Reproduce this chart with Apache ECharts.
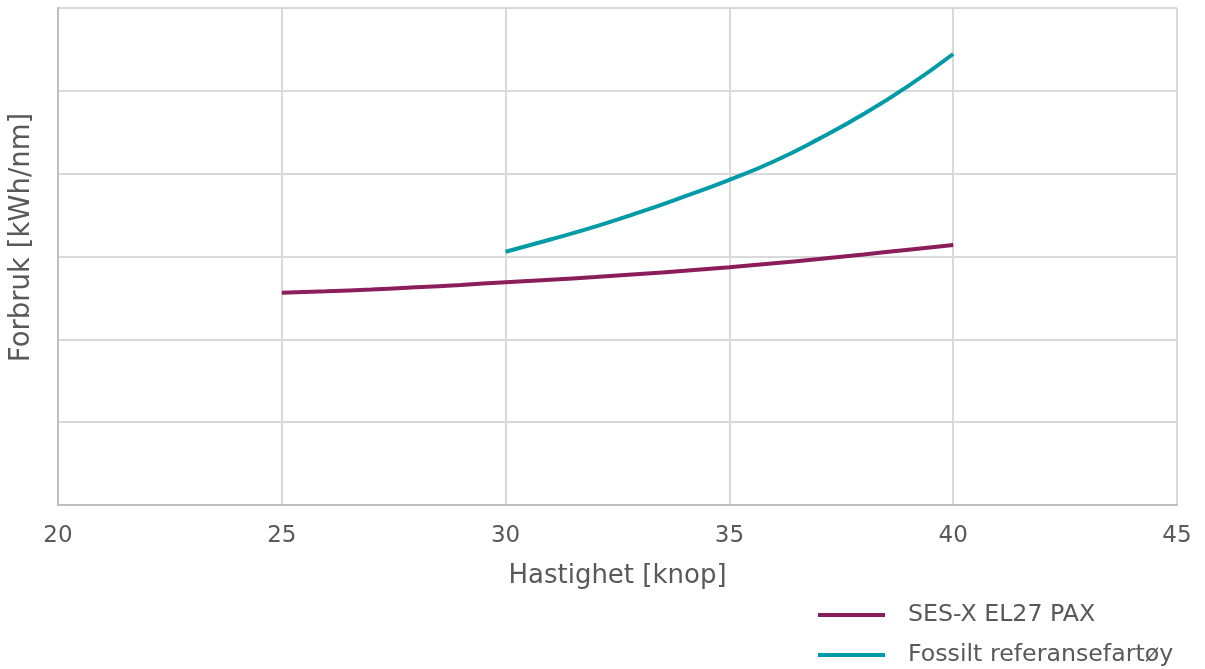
<!DOCTYPE html>
<html>
<head>
<meta charset="utf-8">
<script src="https://cdn.jsdelivr.net/npm/echarts@6/dist/echarts.min.js"></script>
<style>html,body{margin:0;padding:0;background:#fff}#c{width:1205px;height:669px}</style>
</head>
<body>
<div id="c"></div>
<script>
const speedsEl = [25, 26, 27, 28, 29, 30, 31, 32, 33, 34, 35, 36, 37, 38, 39, 40];
const valuesEl = [2.563, 2.58, 2.602, 2.628, 2.657, 2.689, 2.72, 2.752, 2.789, 2.828, 2.87, 2.918, 2.97, 3.025, 3.082, 3.139];
const speedsFossil = [30, 31, 32, 33, 34, 35, 36, 37, 38, 39, 40];
const valuesFossil = [3.058, 3.205, 3.36, 3.535, 3.725, 3.925, 4.15, 4.42, 4.72, 5.06, 5.445];
const seriesNames = ['SES-X EL27 PAX', 'Fossilt referansefartøy'];
const xTicks = [20, 25, 30, 35, 40, 45];

const font = 'DejaVu Sans, Verdana, sans-serif';
const txt = '#595959';
const chart = echarts.init(document.getElementById('c'), null, {renderer: 'canvas'});
chart.setOption({
  animation: false,
  backgroundColor: '#fff',
  grid: {left: 58, right: 28, top: 8, bottom: 164, containLabel: false},
  xAxis: {
    type: 'value', min: xTicks[0], max: xTicks[xTicks.length - 1], interval: 5,
    name: 'Hastighet [knop]', nameLocation: 'middle', nameGap: 58,
    nameTextStyle: {fontFamily: font, fontSize: 26, color: txt},
    axisLine: {show: true, lineStyle: {color: '#bfbfbf', width: 2}},
    axisTick: {show: false},
    axisLabel: {fontFamily: font, fontSize: 23, color: txt, margin: 20},
    splitLine: {show: true, lineStyle: {color: '#d9d9d9', width: 2}}
  },
  yAxis: {
    type: 'value', min: 0, max: 6, interval: 1,
    name: 'Forbruk [kWh/nm]', nameLocation: 'middle', nameGap: 22,
    nameTextStyle: {fontFamily: font, fontSize: 27.5, color: txt, padding: [0, 0, 0, 38]},
    axisLine: {show: true, lineStyle: {color: '#bfbfbf', width: 2}},
    axisTick: {show: false},
    axisLabel: {show: false},
    splitLine: {show: true, lineStyle: {color: '#d9d9d9', width: 2}}
  },
  legend: {
    orient: 'vertical', left: 818, top: 603, height: 66, padding: 0,
    icon: 'rect', itemWidth: 67, itemHeight: 4, itemGap: 16,
    textStyle: {fontFamily: font, fontSize: 23.7, lineHeight: 24, color: txt, padding: [0, 0, 0, 18]},
    data: seriesNames
  },
  series: [
    {
      name: seriesNames[0], type: 'line', smooth: true, showSymbol: false,
      data: speedsEl.map((s, i) => [s, valuesEl[i]]),
      lineStyle: {color: '#8C1D5B', width: 4}, itemStyle: {color: '#8C1D5B'}
    },
    {
      name: seriesNames[1], type: 'line', smooth: true, showSymbol: false,
      data: speedsFossil.map((s, i) => [s, valuesFossil[i]]),
      lineStyle: {color: '#009BA6', width: 4}, itemStyle: {color: '#009BA6'}
    }
  ]
});
</script>
</body>
</html>
